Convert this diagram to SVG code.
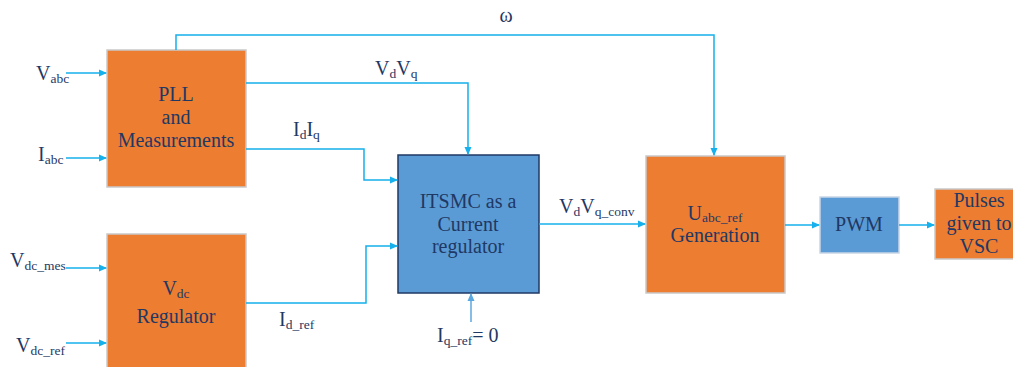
<svg xmlns="http://www.w3.org/2000/svg" width="1013" height="367" viewBox="0 0 1013 367">
<style>
.o{fill:#ED7D31;stroke:#C9C9C9;stroke-width:1.5}
.b{fill:#5B9BD5;stroke:#C9D6E6;stroke-width:1.5}
.bd{fill:#5B9BD5;stroke:#1F3864;stroke-width:1.5}
text{font-family:"Liberation Serif","Times New Roman",serif;fill:#1F3864;font-size:20px}
.c{text-anchor:middle}
.s{font-size:13.5px}
.w{fill:none;stroke:#16B0EC;stroke-width:1.5}
.wl{fill:none;stroke:#5BA8E0;stroke-width:1.5}
</style>
<defs>
<marker id="a" markerWidth="8" markerHeight="8" refX="7" refY="4" orient="auto" markerUnits="userSpaceOnUse"><path d="M0,0.5 L8,4 L0,7.5 Z" fill="#16B0EC"/></marker>
<marker id="al" markerWidth="8" markerHeight="8" refX="7" refY="4" orient="auto" markerUnits="userSpaceOnUse"><path d="M0,0.5 L8,4 L0,7.5 Z" fill="#5BA8E0"/></marker>
</defs>
<g id="pll"><rect class="o" x="107" y="50" width="139" height="137"/>
<text class="c" x="176" y="101">PLL</text><text class="c" x="176" y="124">and</text><text class="c" x="176" y="147">Measurements</text></g>
<g id="vdc"><rect class="o" x="107" y="234" width="139" height="140"/>
<text class="c" x="176" y="295">V<tspan class="s" dy="3">dc</tspan></text><text class="c" x="176" y="323">Regulator</text></g>
<g id="itsmc"><rect class="bd" x="398" y="155" width="141" height="138"/>
<text class="c" x="468" y="208">ITSMC as a</text><text class="c" x="468" y="231">Current</text><text class="c" x="468" y="253">regulator</text></g>
<g id="uabc"><rect class="o" x="646" y="156" width="139" height="137"/>
<text class="c" x="715" y="220">U<tspan class="s" font-size="15" dy="2">abc_ref</tspan></text><text class="c" x="715" y="242">Generation</text></g>
<g id="pwm"><rect class="b" x="820" y="197" width="79" height="56"/>
<text class="c" x="859" y="231">PWM</text></g>
<g id="pulses"><rect class="o" x="935" y="189" width="85" height="70"/>
<text class="c" x="979" y="207">Pulses</text><text class="c" x="979" y="230">given to</text><text class="c" x="979" y="253">VSC</text></g>
<g id="connectors">
<path class="w" d="M176,50 V35 H714 V155" marker-end="url(#a)"/>
<path class="w" d="M246,83 H468 V154" marker-end="url(#a)"/>
<path class="w" d="M246,149 H364 V180 H397" marker-end="url(#a)"/>
<path class="w" d="M246,303 H366 V246 H397" marker-end="url(#a)"/>
<path class="wl" d="M471,322 V294" marker-end="url(#al)"/>
<path class="w" d="M539,224 H645" marker-end="url(#a)"/>
<path class="w" d="M785,225 H819" marker-end="url(#a)"/>
<path class="w" d="M899,225 H934" marker-end="url(#a)"/>
<path class="w" d="M66,73 H106" marker-end="url(#a)"/>
<path class="w" d="M66,158 H106" marker-end="url(#a)"/>
<path class="w" d="M66,268 H106" marker-end="url(#a)"/>
<path class="w" d="M66,343 H106" marker-end="url(#a)"/>
</g>
<g id="labels">
<text class="c" x="506" y="22">ω</text>
<text x="375" y="75">V<tspan class="s" dy="3">d</tspan><tspan dy="-3">V</tspan><tspan class="s" dy="3">q</tspan></text>
<text x="293" y="136">I<tspan class="s" dy="3">d</tspan><tspan dy="-3">I</tspan><tspan class="s" dy="3">q</tspan></text>
<text x="36" y="80">V<tspan class="s" dy="3">abc</tspan></text>
<text x="38" y="161">I<tspan class="s" dy="3">abc</tspan></text>
<text x="10" y="267">V<tspan class="s" dy="3">dc_mes</tspan></text>
<text x="16" y="352">V<tspan class="s" dy="3">dc_ref</tspan></text>
<text x="279" y="326">I<tspan class="s" dy="3">d_ref</tspan></text>
<text x="559" y="213">V<tspan class="s" dy="3">d</tspan><tspan dy="-3">V</tspan><tspan class="s" dy="3">q_conv</tspan></text>
<text x="437" y="342">I<tspan class="s" dy="3">q_ref</tspan><tspan dy="-3">= 0</tspan></text>
</g>
</svg>
